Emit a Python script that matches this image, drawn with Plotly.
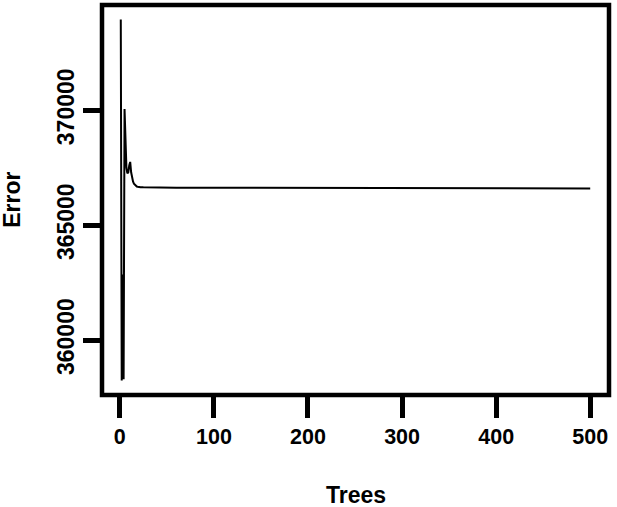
import plotly.graph_objects as go

# Out-of-bag error by number of trees
trees = [1, 2, 3, 4, 5, 6, 7, 8, 9, 10, 11, 12, 13, 14, 15, 16, 17, 18, 19, 20,
         22, 25, 30, 35, 40, 50, 60, 80, 100, 125, 150, 175, 200, 225, 250,
         275, 300, 325, 350, 375, 400, 425, 450, 475, 500]
error = [373950, 358240, 362850, 358300, 370050, 368500, 367500, 367250, 367300,
         367600, 367750, 367300, 367050, 366900, 366800, 366750, 366700, 366680,
         366670, 366660, 366650, 366645, 366640, 366640, 366635, 366635, 366632,
         366630, 366628, 366625, 366622, 366620, 366618, 366616, 366614, 366612,
         366610, 366608, 366606, 366604, 366602, 366600, 366600, 366598, 366596]

x_ticks = [0, 100, 200, 300, 400, 500]
y_ticks = [360000, 365000, 370000]

FONT = "Liberation Sans, Arial, Helvetica, sans-serif"

# R-style 4% axis padding
xmin, xmax = min(trees), max(trees)
ymin, ymax = min(error), max(error)
xpad = 0.04 * (xmax - xmin)
ypad = 0.04 * (ymax - ymin)

fig = go.Figure()
fig.add_trace(go.Scatter(x=trees, y=error, mode="lines",
                         line=dict(color="black", width=2), showlegend=False,
                         hoverinfo="skip"))

fig.update_layout(
    width=617, height=507,
    margin=dict(l=102, r=8, t=5, b=112),
    paper_bgcolor="white", plot_bgcolor="white",
    showlegend=False,
)
fig.update_xaxes(range=[xmin - xpad, xmax + xpad], tickvals=x_ticks,
                 ticktext=[str(v) for v in x_ticks],
                 ticks="outside", ticklen=22, tickwidth=4.5, tickcolor="black",
                 showgrid=False, zeroline=False, showline=False,
                 tickfont=dict(family=FONT, size=21.5, color="black", weight="bold"))
fig.update_yaxes(range=[ymin - ypad, ymax + ypad], tickvals=y_ticks,
                 ticktext=[str(v) for v in y_ticks], tickangle=-90,
                 ticks="outside", ticklen=18, tickwidth=4.5, tickcolor="black",
                 showgrid=False, zeroline=False, showline=False,
                 tickfont=dict(family=FONT, size=23, color="black", weight="bold"))

fig.add_shape(type="rect", xref="paper", yref="paper", x0=0, x1=1, y0=0, y1=1,
              line=dict(color="black", width=4.5), layer="above")

fig.add_annotation(text="Trees", xref="paper", yref="paper", x=0.5, y=-0.256,
                   showarrow=False, xanchor="center", yanchor="middle",
                   font=dict(family=FONT, size=23, color="black", weight="bold"))
fig.add_annotation(text="Error", xref="paper", yref="paper", x=-0.178, y=0.5,
                   textangle=-90, showarrow=False, xanchor="center", yanchor="middle",
                   font=dict(family=FONT, size=23, color="black", weight="bold"))

fig.write_html("out.html", config={"displayModeBar": False},
               post_script="document.body.style.margin='0';document.body.style.padding='0';")
